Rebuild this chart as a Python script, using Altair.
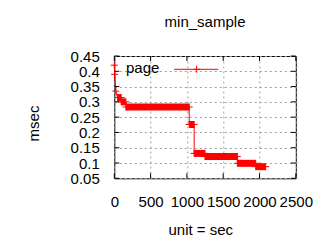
import altair as alt
import pandas as pd

# Step segments of the series: first sample time, last sample time, value (msec)
seg_start = [0, 5, 21, 45, 95, 160, 1032, 1100, 1249, 1695, 1948]
seg_end = [0, 5, 21, 95, 160, 1032, 1100, 1249, 1695, 1948, 2085]
seg_value = [0.42, 0.39, 0.335, 0.314, 0.300, 0.283, 0.226, 0.1315, 0.121, 0.099, 0.088]

x_ticks = [0, 500, 1000, 1500, 2000, 2500]
y_ticks = [0.05, 0.1, 0.15, 0.2, 0.25, 0.3, 0.35, 0.4, 0.45]
series_name = ["page"]
chart_title = "min_sample"

W, H = 181.5, 122.3
FONT = "Liberation Sans"
RED = "#ff0000"
CROSS = "M-1,0L1,0M0,-1L0,1"

pts = []
k = 0
for s, e, v in zip(seg_start, seg_end, seg_value):
    pts.append({"t": s, "v": v, "i": k}); k += 1
    if e != s:
        pts.append({"t": e, "v": v, "i": k}); k += 1
pts_df = pd.DataFrame(pts)
seg_df = pd.DataFrame({"t": seg_start, "e": seg_end, "v": seg_value})
xt_df = pd.DataFrame({"t": x_ticks})
yt_df = pd.DataFrame({"v": y_ticks})
leg_df = pd.DataFrame({"name": series_name})

xs = alt.Scale(domain=[0, 2500], nice=False, zero=False)
ys = alt.Scale(domain=[0.05, 0.45], nice=False, zero=False)

xaxis = alt.Axis(values=x_ticks, tickCount=50, format="d", grid=True, gridDash=[2, 3],
                 gridColor="#a0a0a0",
                 ticks=False, tickSize=0, domain=False, labelPadding=16.5, labelFontSize=15,
                 labelFont=FONT, labelColor="#000", labelOverlap=False, labelFlush=False,
                 title="unit = sec", titleFont=FONT, titleFontSize=15, titleFontWeight="normal",
                 titleX=86, titleY=56, titleBaseline="alphabetic", titleAlign="center",
                 titleColor="#000")
yaxis = alt.Axis(values=y_ticks, tickCount=50, grid=True, gridDash=[2, 3], gridColor="#a0a0a0",
                 ticks=False, tickSize=0, domain=False, labelPadding=15, labelFontSize=15,
                 labelFont=FONT, labelColor="#000", labelOverlap=False, labelFlush=False,
                 labelExpr="format(datum.value, '.2~f')",
                 title="msec", titleFont=FONT, titleFontSize=15, titleFontWeight="normal",
                 titleX=-81, titleY=67, titleBaseline="middle", titleAlign="center",
                 titleAngle=270, titleColor="#000")

X = alt.X("t:Q", scale=xs, axis=xaxis, title="unit = sec")
Y = alt.Y("v:Q", scale=ys, axis=yaxis, title="msec")

line = alt.Chart(pts_df).mark_line(color=RED, strokeWidth=1).encode(x=X, y=Y, order="i:Q")

bands = alt.Chart(seg_df).mark_rule(color=RED, strokeWidth=7, strokeCap="butt").encode(
    x=X, x2="e:Q", y=Y)

marks = alt.Chart(pts_df).mark_point(shape=CROSS, size=49, filled=False, color=RED,
                                     strokeWidth=1, opacity=1).encode(x=X, y=Y)

# inward ticks (bottom/top, left/right)
xt_bot = alt.Chart(xt_df).mark_rule(color="#000").encode(
    x=X, y=alt.value(H), y2=alt.value(H - 5))
xt_top = alt.Chart(xt_df).mark_rule(color="#000").encode(
    x=X, y=alt.value(0), y2=alt.value(5))
yt_l = alt.Chart(yt_df).mark_rule(color="#000").encode(
    y=Y, x=alt.value(0), x2=alt.value(5))
yt_r = alt.Chart(yt_df).mark_rule(color="#000").encode(
    y=Y, x=alt.value(W), x2=alt.value(W - 5))

# key
leg_text = alt.Chart(leg_df).mark_text(align="left", baseline="alphabetic", fontSize=15,
                                       font=FONT, color="#000").encode(
    text="name:N", x=alt.value(11.7), y=alt.value(17.3))
leg_line = alt.Chart(leg_df).mark_rule(color=RED, strokeWidth=1).encode(
    x=alt.value(59.7), x2=alt.value(104), y=alt.value(13.3))
leg_pt = alt.Chart(leg_df).mark_point(shape=CROSS, size=49, filled=False, color=RED,
                                      strokeWidth=1, opacity=1).encode(
    x=alt.value(82.4), y=alt.value(13.3))

chart = alt.layer(bands, line, marks, xt_bot, xt_top, yt_l, yt_r,
                  leg_text, leg_line, leg_pt).properties(
    width=W, height=H,
    title=alt.TitleParams(chart_title, font=FONT, fontSize=15, fontWeight="normal",
                          color="#000", anchor="middle", offset=19.5),
    autosize=alt.AutoSizeParams(type="none"),
    padding={"left": 114.3, "top": 56, "right": 24.2, "bottom": 61.7},
    background="white",
).configure_view(stroke="#000", strokeWidth=1)

chart.save("out.html", embed_options={"renderer": "svg", "actions": False})
